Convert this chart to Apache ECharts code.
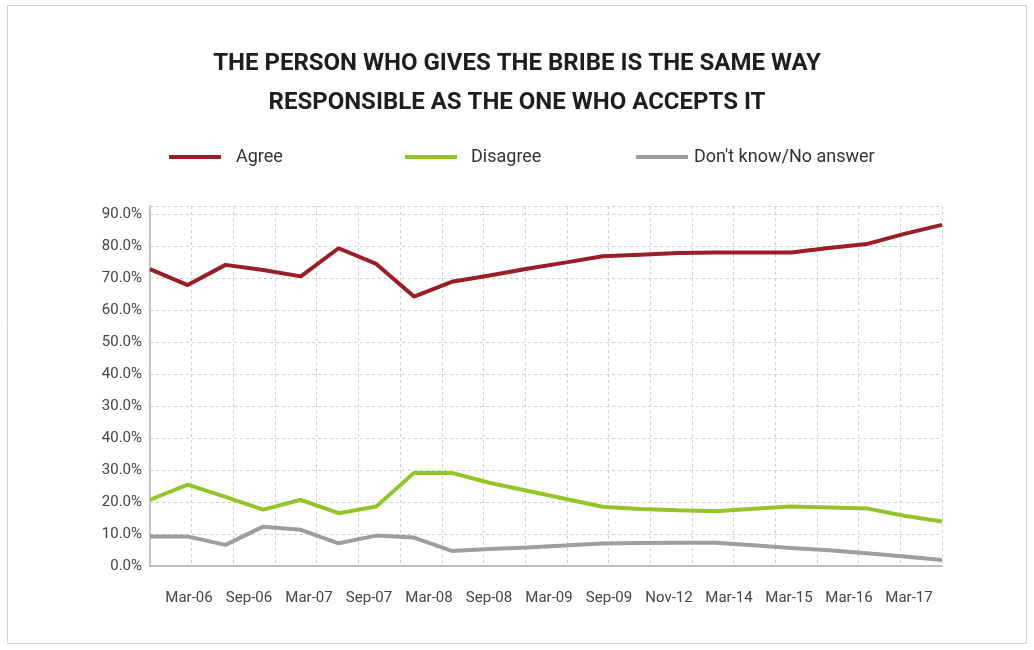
<!DOCTYPE html>
<html>
<head>
<meta charset="utf-8">
<script src="https://cdn.jsdelivr.net/npm/echarts@6/dist/echarts.min.js"></script>
<style>
  html, body { margin: 0; padding: 0; background: #fff; }
  #chart { width: 1034px; height: 650px; }
</style>
</head>
<body>
<div id="chart"></div>
<script>
// survey waves (one point each), only some of them are labelled on the axis
const waves = ['w1', 'w2', 'w3', 'w4', 'w5', 'w6', 'w7', 'w8', 'w9', 'w10', 'w11',
  'w12', 'w13', 'w14', 'w15', 'w16', 'w17', 'w18', 'w19', 'w20', 'w21', 'w22']
const xLabels = ['Mar-06', 'Sep-06', 'Mar-07', 'Sep-07', 'Mar-08', 'Sep-08', 'Mar-09',
  'Sep-09', 'Nov-12', 'Mar-14', 'Mar-15', 'Mar-16', 'Mar-17']
// tick labels as printed, bottom to top (the source repeats 30/40)
const yLabels = ['0.0%', '10.0%', '20.0%', '30.0%', '40.0%', '30.0%', '40.0%',
  '50.0%', '60.0%', '70.0%', '80.0%', '90.0%']

// values are positions on the printed axis (10 units per tick row)
const agree = [92.8, 87.8, 94.1, 92.5, 90.5, 99.3, 94.4, 84.2, 88.8, 90.8, 92.9,
  94.8, 96.8, 97.3, 97.8, 98.0, 98.0, 98.0, 99.4, 100.6, 103.8, 106.6]
const disagree = [20.7, 25.4, 21.6, 17.6, 20.7, 16.5, 18.6, 29.1, 29.1, 26.0, 23.5,
  21.0, 18.5, 17.8, 17.4, 17.1, 17.9, 18.6, 18.3, 18.0, 15.7, 13.9]
const noAnswer = [9.2, 9.2, 6.6, 12.3, 11.3, 7.1, 9.5, 8.9, 4.7, 5.3, 5.8,
  6.4, 7.0, 7.2, 7.3, 7.3, 6.5, 5.6, 4.9, 4.0, 3.0, 1.9]

const font = 'Roboto, sans-serif'
const gridColor = '#cfcfcf'

const chart = echarts.init(document.getElementById('chart'))

function legendFor(name, left, gap) {
  return {
    data: [name],
    left: left,
    top: 148,
    padding: 0,
    icon: 'rect',
    itemWidth: 52,
    itemHeight: 4,
    selectedMode: false,
    textStyle: {
      fontFamily: font,
      fontSize: 18,
      color: '#333',
      padding: [0, 0, 0, gap]
    }
  }
}

chart.setOption({
  animation: false,
  backgroundColor: '#fff',
  title: {
    text: 'THE PERSON WHO GIVES THE BRIBE IS THE SAME WAY\nRESPONSIBLE AS THE ONE WHO ACCEPTS IT',
    left: 'center',
    top: 44,
    padding: 0,
    textStyle: {
      fontFamily: font,
      fontWeight: 'bold',
      fontSize: 24,
      lineHeight: 39,
      color: '#1e1e1e'
    }
  },
  graphic: [{
    type: 'rect',
    silent: true,
    shape: { x: 7.5, y: 5.5, width: 1019, height: 638 },
    style: { fill: 'none', stroke: '#d4d4d4', lineWidth: 1 }
  }],
  legend: [
    legendFor('Agree', 169, 10),
    legendFor('Disagree', 405, 9),
    legendFor("Don't know/No answer", 636, 1)
  ],
  grid: [
    { left: 150, right: 92, top: 206, bottom: 84 },
    { left: 159, width: 780, top: 206, bottom: 84 }
  ],
  xAxis: [{
    type: 'category',
    gridIndex: 0,
    data: waves,
    boundaryGap: false,
    axisLine: { lineStyle: { color: '#bdbdbd', width: 2 } },
    axisTick: { show: false },
    axisLabel: { show: false },
    splitLine: { show: false }
  }, {
    // vertical grid of the source
    type: 'value',
    gridIndex: 0,
    position: 'top',
    min: 0,
    max: 19,
    interval: 1,
    axisLine: { show: false },
    axisTick: { show: false },
    axisLabel: { show: false },
    splitLine: { show: true, lineStyle: { color: gridColor, type: [3, 3] } }
  }, {
    type: 'category',
    gridIndex: 1,
    data: xLabels,
    boundaryGap: true,
    axisLine: { show: false },
    axisTick: { show: false },
    axisLabel: {
      interval: 0,
      margin: 25,
      fontFamily: font,
      fontSize: 15,
      color: '#444'
    }
  }],
  yAxis: [{
    type: 'value',
    gridIndex: 0,
    min: 0,
    max: 112.5,
    interval: 10,
    axisLine: { show: true, lineStyle: { color: '#c4c4c4', width: 2 } },
    axisTick: { show: false },
    axisLabel: {
      margin: 8,
      fontFamily: font,
      fontSize: 15,
      color: '#444',
      formatter: v => (v % 10 === 0 ? yLabels[v / 10] : '')
    },
    splitLine: { show: true, lineStyle: { color: gridColor, type: [3, 3] } }
  }, {
    type: 'value',
    gridIndex: 1,
    show: false,
    min: 0,
    max: 112.5
  }],
  series: [{
    name: 'Agree',
    type: 'line',
    data: agree,
    symbol: 'none',
    color: '#9b1d25',
    lineStyle: { width: 4 }
  }, {
    name: 'Disagree',
    type: 'line',
    data: disagree,
    symbol: 'none',
    color: '#93c529',
    lineStyle: { width: 4 }
  }, {
    name: "Don't know/No answer",
    type: 'line',
    data: noAnswer,
    symbol: 'none',
    color: '#9e9ea0',
    lineStyle: { width: 4 }
  }]
})
</script>
</body>
</html>
